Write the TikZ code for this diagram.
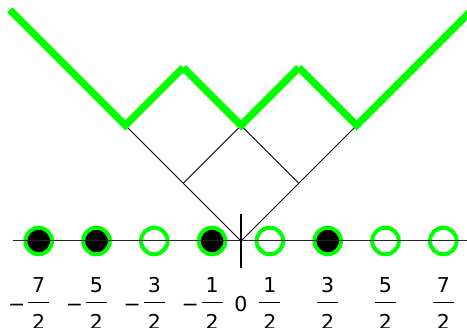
\documentclass[tikz,border=0pt]{standalone}
\usepackage{fontspec}
\setmainfont{DejaVu Sans}
\definecolor{grn}{RGB}{0,255,0}
\begin{document}
\begin{tikzpicture}[x=57.8pt,y=57.8pt,
  site/.style={circle,draw=grn,line width=4pt,minimum size=26.6pt,inner sep=0pt},
  full/.style={site,fill=black},
  hollow/.style={site},
  lbl/.style={font=\fontsize{20.5}{24}\selectfont,inner sep=0pt,anchor=base},
  profile/.style={grn,line width=7.3pt},
  thinline/.style={black,line width=0.9pt},
  axisline/.style={black!85,line width=1pt},
  tickline/.style={black,line width=2.8pt},
  barline/.style={black,line width=1pt}]
\useasboundingbox (-241pt,-87pt) rectangle (226pt,241pt);
\clip (-241pt,-87pt) rectangle (226pt,241pt);
% named points
\coordinate (O) at (0,0);
\coordinate (L1) at (-1,1);
\coordinate (L2) at (-2,2);
\coordinate (R1) at (1,1);
\coordinate (R2) at (2,2);
\coordinate (T) at (0,2);
\coordinate (A) at (-4,4);
\coordinate (P1) at (-1,3);
\coordinate (P2) at (1,3);
\coordinate (B) at (4,4);
\coordinate (axL) at (-228pt,0);
\coordinate (axR) at (226pt,0);
\coordinate (tkT) at (0,27pt);
\coordinate (tkB) at (0,-27pt);
% young diagram cells
\draw[thinline] (O) -- (L2);
\draw[thinline] (O) -- (R2);
\draw[thinline] (L1) -- (T);
\draw[thinline] (R1) -- (T);
% profile
\draw[profile] (A) -- (L2) -- (P1);
\draw[profile] (P1) -- (T) -- (P2);
\draw[profile] (P2) -- (R2) -- (B);
% Maya diagram
\foreach \x/\s [count=\i] in {-3.5/full,-2.5/full,-1.5/hollow,-0.5/full,0.5/hollow,1.5/full,2.5/hollow,3.5/hollow}
  \node[\s] (c\i) at (\x,0) {};
\draw[axisline] (axL) -- (axR);
\draw[tickline] (tkT) -- (tkB);
% labels
\node[lbl] (zero) at (0,-71pt) {0};
\foreach \k [count=\i] in {1,3,5,7}{
  \node[lbl] (pn\i) at (\k/2,-52pt) {\k};
  \node[lbl] (pd\i) at (\k/2,-89pt) {2};
  \coordinate (pbl\i) at ([xshift=-10.5pt]\k/2,-62pt);
  \coordinate (pbr\i) at ([xshift=10.5pt]\k/2,-62pt);
  \draw[barline] (pbl\i) -- (pbr\i);
  \node[lbl] (nn\i) at (-\k/2,-52pt) {\k};
  \node[lbl] (nd\i) at (-\k/2,-89pt) {2};
  \coordinate (nbl\i) at ([xshift=-10.5pt]-\k/2,-62pt);
  \coordinate (nbr\i) at ([xshift=10.5pt]-\k/2,-62pt);
  \draw[barline] (nbl\i) -- (nbr\i);
  \node[lbl] (nm\i) at ([xshift=-22pt]-\k/2,-71pt) {−};
}
\end{tikzpicture}
\end{document}
